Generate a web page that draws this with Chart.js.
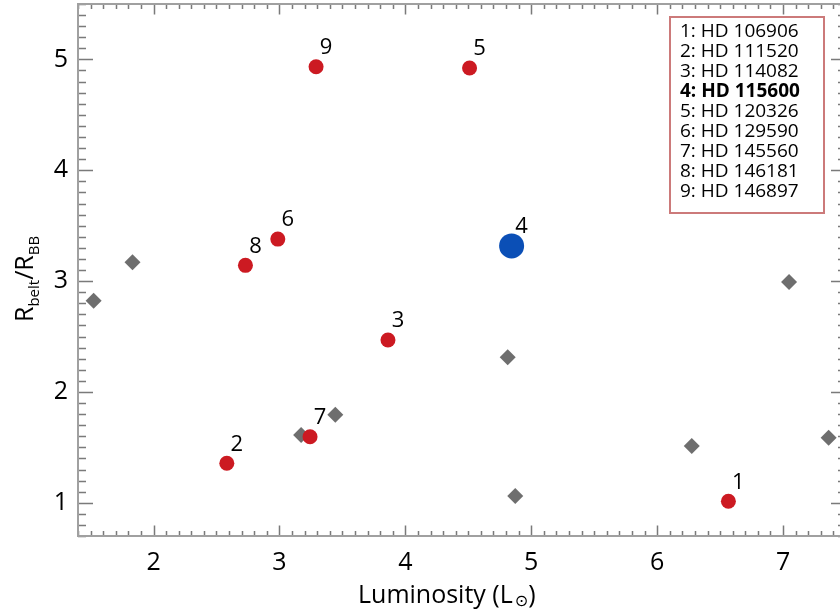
<!DOCTYPE html>
<html>
<head>
<meta charset="utf-8">
<script src="https://cdn.jsdelivr.net/npm/chart.js@4"></script>
<style>
  html, body { margin: 0; padding: 0; background: #fff; overflow: hidden; }
</style>
</head>
<body>
<canvas id="belt-chart" width="850" height="612"></canvas>
<script>
// Data
const starIds = ['1', '2', '3', '4', '5', '6', '7', '8', '9'];
const starNames = ['HD 106906', 'HD 111520', 'HD 114082', 'HD 115600', 'HD 120326',
  'HD 129590', 'HD 145560', 'HD 146181', 'HD 146897'];
const starLum = [6.566, 2.582, 3.862, 4.844, 4.510, 2.987, 3.243, 2.730, 3.291];
const starRatio = [1.013, 1.356, 2.468, 3.317, 4.923, 3.379, 1.596, 3.142, 4.934];
const highlight = 3; // HD 115600

// other disks (grey diamonds)
const otherLum = [1.524, 1.833, 3.172, 3.444, 4.813, 4.873, 6.275, 7.048, 7.362];
const otherRatio = [2.823, 3.170, 1.611, 1.794, 2.312, 1.061, 1.512, 2.992, 1.587];

const xTicks = [2, 3, 4, 5, 6, 7];
const yTicks = [1, 2, 3, 4, 5];

const FONT = "'Open Sans', 'Noto Sans', sans-serif";

// 1. canvas (a bit wider than the window, the right axis falls just outside)
const ctx = document.getElementById('belt-chart').getContext('2d');

const redPts = [];
const bluePts = [];
starLum.forEach((x, i) => {
  if (i === highlight) bluePts.push({ x: x, y: starRatio[i] });
  else redPts.push({ x: x, y: starRatio[i] });
});
const greyPts = otherLum.map((x, i) => ({ x: x, y: otherRatio[i] }));

// no extra room for edge labels, the plot box is fixed
function noPad(s) {
  s.paddingTop = 0;
  s.paddingBottom = 0;
  s.paddingLeft = 0;
  s.paddingRight = 0;
}

// 2. box, minor ticks, titles, labels and legend
const decor = {
  id: 'decor',
  afterDatasetsDraw(chart) {
    const c = chart.ctx;
    const a = chart.chartArea;
    const xs = chart.scales.x;
    const ys = chart.scales.y;
    c.save();

    // ticks (inward, IDL style)
    c.strokeStyle = '#7a7a7a';
    c.lineWidth = 1.5;
    c.beginPath();
    for (let k = 14; k <= 75; k++) {
      const v = k / 10;
      const px = Math.round(xs.getPixelForValue(v)) + 0.5;
      const len = k % 10 === 0 ? 10.5 : 5;
      c.moveTo(px, a.bottom); c.lineTo(px, a.bottom - len);
      c.moveTo(px, a.top); c.lineTo(px, a.top + len);
    }
    for (let k = 7; k <= 55; k++) {
      const v = k / 10;
      const py = Math.round(ys.getPixelForValue(v)) + 0.5;
      const len = k % 10 === 0 ? 15 : 8;
      c.moveTo(a.left, py); c.lineTo(a.left + len, py);
      c.moveTo(a.right, py); c.lineTo(a.right - len, py);
    }
    c.stroke();

    // axis box
    c.strokeStyle = '#a0a0a0';
    c.lineWidth = 2;
    c.strokeRect(a.left, a.top, a.right - a.left, a.bottom - a.top);

    // number labels next to the points
    c.fillStyle = '#000';
    c.font = '22px ' + FONT;
    c.textAlign = 'center';
    c.textBaseline = 'middle';
    const red = chart.getDatasetMeta(1).data;
    const blue = chart.getDatasetMeta(0).data;
    let r = 0;
    starIds.forEach((id, i) => {
      const el = i === highlight ? blue[0] : red[r++];
      c.fillText(id, el.x + 10, el.y - 19);
    });

    // x title
    c.textAlign = 'left';
    c.textBaseline = 'alphabetic';
    c.font = '25px ' + FONT;
    let tx = 358;
    const ty = 603;
    c.fillText('Luminosity (L', tx, ty);
    tx += c.measureText('Luminosity (L').width + 2;
    c.font = '16px DejaVu Sans';
    c.fillText('\u2299', tx, ty + 3);
    tx += c.measureText('\u2299').width;
    c.font = '25px ' + FONT;
    c.fillText(')', tx, ty);

    // y title (rotated)
    c.save();
    c.translate(33, 322);
    c.rotate(-Math.PI / 2);
    let sx = 0;
    const parts = [['R', 25, 0], ['belt', 15, 6], ['/R', 25, 0], ['BB', 15, 6]];
    parts.forEach(p => {
      c.font = p[1] + 'px ' + FONT;
      c.fillText(p[0], sx, p[2]);
      sx += c.measureText(p[0]).width;
    });
    c.restore();

    // legend box
    c.strokeStyle = '#cc7a7a';
    c.lineWidth = 2;
    c.fillStyle = '#fff';
    c.fillRect(670, 17, 154, 196);
    c.strokeRect(670, 17, 154, 196);
    c.fillStyle = '#000';
    c.textBaseline = 'middle';
    starNames.forEach((n, i) => {
      c.font = (i === highlight ? 'bold ' : '') + '19px ' + FONT;
      c.fillText(starIds[i] + ': ' + n, 680, 32 + i * 20);
    });

    c.restore();
  }
};

// 3. config
const config = {
  type: 'scatter',
  data: {
    datasets: [
      {
        data: bluePts,
        pointStyle: 'circle',
        pointRadius: 12.5,
        backgroundColor: '#0b4fb6',
        borderWidth: 0,
      },
      {
        data: redPts,
        pointStyle: 'circle',
        pointRadius: 7.5,
        backgroundColor: '#cc1a22',
        borderWidth: 0,
      },
      {
        data: greyPts,
        pointStyle: 'rectRot',
        pointRadius: 8,
        backgroundColor: '#6e6e6e',
        borderWidth: 0,
      },
    ],
  },
  options: {
    responsive: false,
    animation: false,
    layout: { autoPadding: false, padding: { left: 0, top: 4, right: 4, bottom: 0 } },
    plugins: { legend: { display: false }, tooltip: { enabled: false } },
    scales: {
      x: {
        type: 'linear',
        min: 1.4,
        max: 7.5,
        grid: { display: false, drawTicks: false },
        border: { display: false },
        afterBuildTicks: s => { s.ticks = xTicks.map(v => ({ value: v })); },
        afterFit: s => { s.height = 76; noPad(s); },
        ticks: { padding: 12, color: '#000', font: { family: FONT, size: 25 } },
      },
      y: {
        type: 'linear',
        min: 0.7,
        max: 5.5,
        grid: { display: false, drawTicks: false },
        border: { display: false },
        afterBuildTicks: s => { s.ticks = yTicks.map(v => ({ value: v })); },
        afterFit: s => { s.width = 78; noPad(s); },
        ticks: { padding: 10, color: '#000', font: { family: FONT, size: 25 } },
      },
    },
  },
  plugins: [decor],
};

const beltChart = new Chart(ctx, config);
</script>
</body>
</html>
